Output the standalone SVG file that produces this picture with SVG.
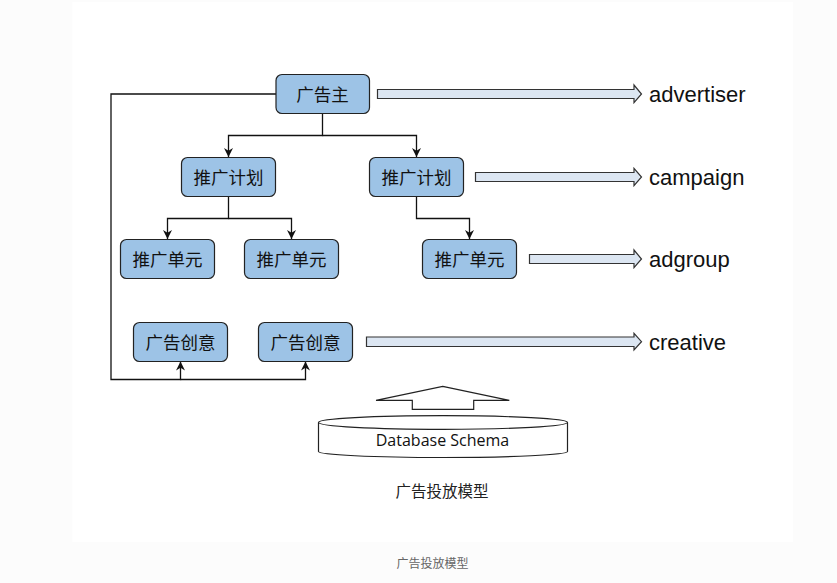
<svg xmlns="http://www.w3.org/2000/svg" width="837" height="583" viewBox="0 0 837 583">
<defs>
<style>
.node rect{fill:#9dc3e6;stroke:#222;stroke-width:1.2}
.node text{font-family:"Noto Sans CJK SC","Noto Sans",sans-serif;font-size:17.5px;fill:#111;text-anchor:middle}
.conn{fill:none;stroke:#111;stroke-width:1.3}
.blk{fill:#dce6f2;stroke:#333;stroke-width:1.2}
.lbl{font-family:"Liberation Sans",Arial,sans-serif;font-size:22px;fill:#111}
</style>
<marker id="ah" viewBox="0 0 10 10" refX="10" refY="5" markerWidth="9" markerHeight="9" markerUnits="userSpaceOnUse" orient="auto">
<path d="M0,0 L10,5 L0,10 L3,5 Z" fill="#111"/>
</marker>
</defs>
<rect x="0" y="0" width="837" height="583" fill="#fcfcfc"/>
<rect x="72.5" y="2" width="720.5" height="540" fill="#ffffff"/>

<g id="connectors">
<path class="conn" d="M322.5,113.5 V135.5 H228.5 V157" marker-end="url(#ah)"/>
<path class="conn" d="M322.5,135.5 H416.5 V157" marker-end="url(#ah)"/>
<path class="conn" d="M228.5,196.5 V218.5 H167.5 V239" marker-end="url(#ah)"/>
<path class="conn" d="M228.5,218.5 H291.5 V239" marker-end="url(#ah)"/>
<path class="conn" d="M416.5,196.5 V218.5 H469.5 V239" marker-end="url(#ah)"/>
<path class="conn" d="M276,94 H111 V379.5 H180.5 V361.5" marker-end="url(#ah)"/>
<path class="conn" d="M180.5,379.5 H305.5 V361.5" marker-end="url(#ah)"/>
</g>

<g id="advertiser-node" class="node"><rect x="276" y="74.5" width="93.5" height="39" rx="6"/><text x="322.5" y="100.5">广告主</text></g>
<g id="campaign-left" class="node"><rect x="181.5" y="157.5" width="94" height="39" rx="6"/><text x="228.5" y="183.5">推广计划</text></g>
<g id="campaign-right" class="node"><rect x="369.5" y="157.5" width="94" height="39" rx="6"/><text x="416.5" y="183.5">推广计划</text></g>
<g id="adgroup-1" class="node"><rect x="120.5" y="239.5" width="94" height="39" rx="6"/><text x="167.5" y="265.5">推广单元</text></g>
<g id="adgroup-2" class="node"><rect x="244.5" y="239.5" width="94" height="39" rx="6"/><text x="291.5" y="265.5">推广单元</text></g>
<g id="adgroup-3" class="node"><rect x="422.5" y="239.5" width="94" height="39" rx="6"/><text x="469.5" y="265.5">推广单元</text></g>
<g id="creative-1" class="node"><rect x="133.5" y="322.5" width="94" height="39" rx="6"/><text x="180.5" y="348.5">广告创意</text></g>
<g id="creative-2" class="node"><rect x="258.5" y="322.5" width="94" height="39" rx="6"/><text x="305.5" y="348.5">广告创意</text></g>

<g id="map-advertiser">
<path class="blk" d="M377.5,89.5 H634 V85 L641.5,94 L634,102.7 V98.5 H377.5 Z"/>
<text class="lbl" x="649" y="102">advertiser</text>
</g>
<g id="map-campaign">
<path class="blk" d="M475.5,172.5 H634 V168.3 L641.5,177 L634,185.7 V181.5 H475.5 Z"/>
<text class="lbl" x="649" y="185">campaign</text>
</g>
<g id="map-adgroup">
<path class="blk" d="M529.5,254.5 H634 V250 L641.5,259 L634,267.7 V263.5 H529.5 Z"/>
<text class="lbl" x="649" y="267">adgroup</text>
</g>
<g id="map-creative">
<path class="blk" d="M366.5,337 H634 V333.3 L641.5,341.7 L634,350 V346.5 H366.5 Z"/>
<text class="lbl" x="649" y="350">creative</text>
</g>

<g id="db-arrow">
<path d="M442.7,386.3 L509.3,400.3 H473.7 V409.3 H412.3 V400.3 H376 Z" fill="#fff" stroke="#222" stroke-width="1.2"/>
</g>
<g id="database">
<path d="M318.5,422.5 V451.5 A124.5,6 0 0 0 567.5,451.5 V422.5" fill="#fff" stroke="#222" stroke-width="1.2"/>
<ellipse cx="443" cy="422.5" rx="124.5" ry="6.8" fill="#fff" stroke="#222" stroke-width="1.2"/>
<text x="442.5" y="446" font-family="'Open Sans','Noto Sans',sans-serif" font-size="16" fill="#111" text-anchor="middle">Database Schema</text>
</g>

<text x="442" y="497" font-family="'Noto Sans CJK SC',sans-serif" font-size="15.5" fill="#222" text-anchor="middle">广告投放模型</text>
<text x="432.5" y="568" font-family="'Noto Sans CJK SC',sans-serif" font-size="12" fill="#666" text-anchor="middle">广告投放模型</text>
</svg>
